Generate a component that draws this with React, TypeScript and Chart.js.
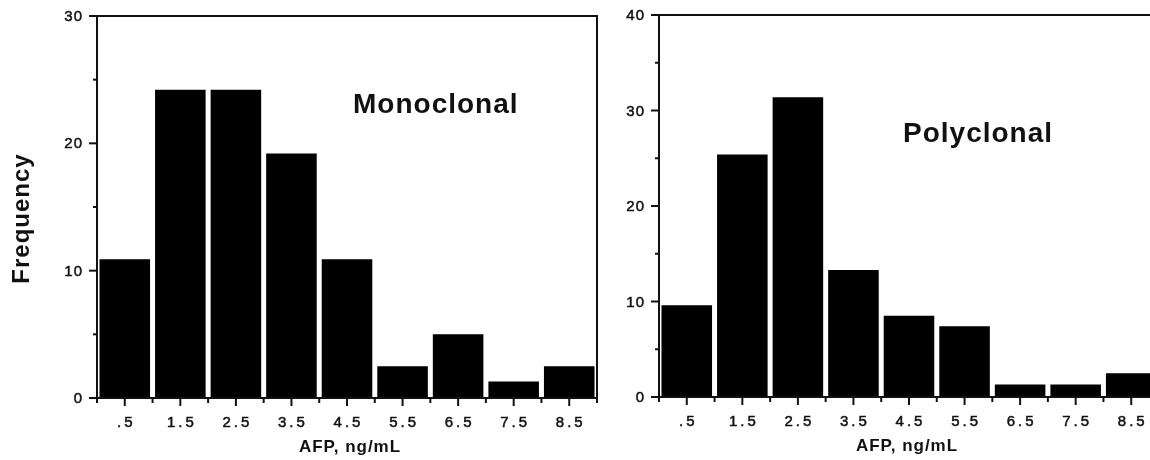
import React, { useEffect, useRef } from "react";
import { Chart, registerables } from "chart.js";

Chart.register(...registerables);

// ---- data ----
const binLabels = [".5", "1.5", "2.5", "3.5", "4.5", "5.5", "6.5", "7.5", "8.5"];
const monoclonalFreq = [10.9, 24.2, 24.2, 19.2, 10.9, 2.5, 5.0, 1.3, 2.5];
const polyclonalFreq = [9.6, 25.4, 31.4, 13.3, 8.5, 7.4, 1.3, 1.3, 2.5];
const monoYTicks = [0, 10, 20, 30];
const polyYTicks = [0, 10, 20, 30, 40];
const xAxisTitle = "AFP, ng/mL";
const yAxisTitle = "Frequency";
const monoLabel = "Monoclonal";
const polyLabel = "Polyclonal";

const INK = "#111";
const FONT = '"Liberation Sans", Arial, Helvetica, sans-serif';

type PanelProps = {
  values: number[];
  yTicks: number[];
  label: string;
  labelX: number;
  labelBaseline: number;
  showYTitle: boolean;
  width: number;
  left: number;
  yAxisWidth: number;
  padTop: number;
  padRight: number;
  xAxisHeight: number;
  titleOffset: number;
};

function makeDecor(p: PanelProps) {
  return {
    id: "decor",
    afterDraw(chart: any) {
      const { ctx, chartArea: a, scales } = chart;
      const xs = scales.x;
      const ys = scales.y;
      const yMax = p.yTicks[p.yTicks.length - 1];
      ctx.save();
      ctx.strokeStyle = INK;
      ctx.fillStyle = INK;
      ctx.lineWidth = 2;
      // frame
      ctx.strokeRect(a.left, a.top, a.right - a.left, a.bottom - a.top);
      const seg = (x1: number, y1: number, x2: number, y2: number) => {
        ctx.beginPath();
        ctx.moveTo(x1, y1);
        ctx.lineTo(x2, y2);
        ctx.stroke();
      };
      // y ticks (major every 10, minor every 5)
      for (let v = 0; v <= yMax; v += 5) {
        const py = ys.getPixelForValue(v);
        const len = v % 10 === 0 ? 8 : 4;
        seg(a.left - len, py, a.left, py);
      }
      // x ticks: at bin edges and bin centres
      const n = binLabels.length;
      const bw = (a.right - a.left) / n;
      for (let i = 0; i <= n; i++) {
        const px = a.left + i * bw;
        seg(px, a.bottom, px, a.bottom + 5);
      }
      for (let i = 0; i < n; i++) {
        const px = xs.getPixelForValue(i);
        seg(px, a.bottom, px, a.bottom + 8);
      }
      // tick labels (slightly heavier, like the printed figure)
      ctx.lineWidth = 0.5;
      ctx.font = `15px ${FONT}`;
      ctx.letterSpacing = "1px";
      ctx.textAlign = "right";
      ctx.textBaseline = "middle";
      for (const v of p.yTicks) {
        const ty = ys.getPixelForValue(v) + 1;
        ctx.fillText(String(v), a.left - 14, ty);
        ctx.strokeText(String(v), a.left - 14, ty);
      }
      ctx.letterSpacing = "3px";
      ctx.textAlign = "center";
      ctx.textBaseline = "alphabetic";
      for (let i = 0; i < n; i++) {
        const tx = xs.getPixelForValue(i) + 1.5;
        ctx.fillText(binLabels[i], tx, a.bottom + 28.5);
        ctx.strokeText(binLabels[i], tx, a.bottom + 28.5);
      }
      // x axis title
      ctx.font = `bold 17px ${FONT}`;
      ctx.letterSpacing = "1px";
      ctx.fillText(xAxisTitle, (a.left + a.right) / 2 + p.titleOffset, a.bottom + 54);
      // panel label
      ctx.font = `bold 28px ${FONT}`;
      ctx.textAlign = "left";
      ctx.fillText(p.label, p.labelX, p.labelBaseline);
      // y axis title
      if (p.showYTitle) {
        ctx.font = `bold 24px ${FONT}`;
        ctx.translate(29, 218.5);
        ctx.rotate(-Math.PI / 2);
        ctx.textAlign = "center";
        ctx.fillText(yAxisTitle, 0, 0);
      }
      ctx.restore();
    },
  };
}

function Panel(p: PanelProps) {
  const ref = useRef<HTMLCanvasElement | null>(null);
  useEffect(() => {
    if (!ref.current) return;
    const chart = new Chart(ref.current, {
      type: "bar",
      data: {
        labels: binLabels,
        datasets: [
          {
            data: p.values,
            backgroundColor: "#000",
            borderWidth: 0,
            barPercentage: 0.91,
            categoryPercentage: 1,
          },
        ],
      },
      options: {
        responsive: false,
        animation: false,
        devicePixelRatio: 1,
        layout: { padding: { left: 0, top: p.padTop, right: p.padRight, bottom: 0 } },
        plugins: { legend: { display: false }, tooltip: { enabled: false }, title: { display: false } },
        scales: {
          x: {
            type: "category",
            grid: { display: false, drawTicks: false },
            border: { display: false },
            ticks: { display: false },
            afterFit: (s: any) => {
              s.height = p.xAxisHeight;
            },
          },
          y: {
            min: 0,
            max: p.yTicks[p.yTicks.length - 1],
            grid: { display: false, drawTicks: false },
            border: { display: false },
            ticks: { display: false, stepSize: 10 },
            afterFit: (s: any) => {
              s.width = p.yAxisWidth;
            },
          },
        },
      },
      plugins: [makeDecor(p)],
    });
    return () => chart.destroy();
  }, []);
  return (
    <canvas
      ref={ref}
      width={p.width}
      height={460}
      style={{ position: "absolute", left: p.left, top: 0, width: p.width, height: 460 }}
    />
  );
}

export default function App() {
  return (
    <div
      style={{
        position: "fixed",
        left: 0,
        top: 0,
        width: 1150,
        height: 460,
        overflow: "hidden",
        background: "#fff",
      }}
    >
      <Panel
        values={monoclonalFreq}
        yTicks={monoYTicks}
        label={monoLabel}
        labelX={353}
        labelBaseline={113}
        showYTitle={true}
        width={615}
        left={0}
        yAxisWidth={97}
        padTop={16}
        padRight={18}
        xAxisHeight={62}
        titleOffset={3}
      />
      <Panel
        values={polyclonalFreq}
        yTicks={polyYTicks}
        label={polyLabel}
        labelX={288}
        labelBaseline={142}
        showYTitle={false}
        width={545}
        left={615}
        yAxisWidth={44}
        padTop={15}
        padRight={1}
        xAxisHeight={63}
        titleOffset={-2}
      />
    </div>
  );
}
